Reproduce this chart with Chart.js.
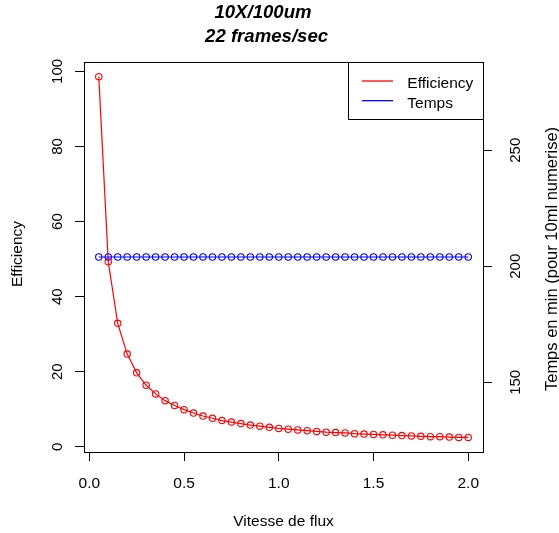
<!DOCTYPE html>
<html><head><meta charset="utf-8">
<script src="https://cdn.jsdelivr.net/npm/chart.js@4"></script>
<style>html,body{margin:0;padding:0;background:#fff;}#wrap{width:559px;height:533px;}</style>
</head><body><div id="wrap"><canvas id="c" width="559" height="533"></canvas></div>
<script>
const vitesse = [0.05,0.10,0.15,0.20,0.25,0.30,0.35,0.40,0.45,0.50,0.55,0.60,0.65,0.70,0.75,0.80,0.85,0.90,0.95,1.00,
                 1.05,1.10,1.15,1.20,1.25,1.30,1.35,1.40,1.45,1.50,1.55,1.60,1.65,1.70,1.75,1.80,1.85,1.90,1.95,2.00];
const efficiency = [98.6,49.3,32.9,24.7,19.7,16.4,14.1,12.3,11.0,9.9,9.0,8.2,7.6,7.0,6.6,6.2,5.8,5.5,5.2,4.9,
                    4.7,4.5,4.3,4.1,3.9,3.8,3.7,3.5,3.4,3.3,3.2,3.1,3.0,2.9,2.8,2.7,2.7,2.6,2.5,2.5];
const temps = [204,204,204,204,204,204,204,204,204,204,204,204,204,204,204,204,204,204,204,204,
               204,204,204,204,204,204,204,204,204,204,204,204,204,204,204,204,204,204,204,204];
const xTicks = [0,0.5,1.0,1.5,2.0];
const effTicks = [0,20,40,60,80,100];
const tempsTicks = [150,200,250];
const seriesNames = ["Efficiency", "Temps"];
const seriesColors = ["rgb(255,0,0)", "rgb(0,0,255)"];
const titleLines = ["10X/100um", " 22 frames/sec"];
const xTitle = "Vitesse de flux";
const yTitle = "Efficiency";
const y2Title = "Temps en min (pour 10ml numerise)";

const FONT = '"Liberation Sans", Arial, sans-serif';

const decor = {
  id: 'decor',
  afterDraw(chart) {
    const ctx = chart.ctx, a = chart.chartArea;
    const sx = chart.scales.x, sy = chart.scales.y, sy2 = chart.scales.y2;
    ctx.save();
    ctx.setLineDash([]);
    ctx.globalAlpha = 1;
    ctx.strokeStyle = '#000'; ctx.lineWidth = 1;
    ctx.strokeRect(Math.round(a.left) + 0.5, Math.round(a.top) + 0.5, Math.round(a.right - a.left), Math.round(a.bottom - a.top));
    ctx.fillStyle = '#000';
    ctx.font = '15.5px ' + FONT; ctx.textAlign = 'center'; ctx.textBaseline = 'alphabetic';
    sx.ticks.forEach(t => ctx.fillText(t.value.toFixed(1), sx.getPixelForValue(t.value), 488.3));
    ctx.fillText(xTitle, (a.left + a.right) / 2, 526);
    ctx.font = '15px ' + FONT;
    sy.ticks.forEach(t => {
      ctx.save(); ctx.translate(61.7, sy.getPixelForValue(t.value)); ctx.rotate(-Math.PI / 2);
      ctx.fillText(String(t.value), 0, 0); ctx.restore();
    });
    sy2.ticks.forEach(t => {
      ctx.save(); ctx.translate(520, sy2.getPixelForValue(t.value)); ctx.rotate(-Math.PI / 2);
      ctx.fillText(String(t.value), 0, 0); ctx.restore();
    });
    ctx.font = '15.5px ' + FONT;
    ctx.save(); ctx.translate(21.5, (a.top + a.bottom) / 2 - 3); ctx.rotate(-Math.PI / 2);
    ctx.fillText(yTitle, 0, 0); ctx.restore();
    ctx.font = '16.5px ' + FONT;
    ctx.save(); ctx.translate(557, (a.top + a.bottom) / 2 + 2); ctx.rotate(-Math.PI / 2);
    ctx.fillText(y2Title, 0, 0); ctx.restore();
    ctx.font = 'italic bold 18.6px ' + FONT;
    ctx.fillText(titleLines[0], 263, 18.3);
    ctx.fillText(titleLines[1], 264, 41.7);
    const lx0 = 348.5, ly0 = Math.round(a.top) + 0.5, lx1 = Math.round(a.right) + 0.5, ly1 = 119.5;
    ctx.fillStyle = '#fff';
    ctx.fillRect(lx0, ly0, lx1 - lx0, ly1 - ly0);
    ctx.strokeStyle = '#000';
    ctx.strokeRect(lx0, ly0, lx1 - lx0, ly1 - ly0);
    const rows = [81, 100.7];
    ctx.font = '15.5px ' + FONT; ctx.textAlign = 'left';
    for (let i = 0; i < seriesNames.length; i++) {
      ctx.strokeStyle = seriesColors[i]; ctx.lineWidth = 1.3;
      ctx.beginPath(); ctx.moveTo(362, rows[i]); ctx.lineTo(393, rows[i]); ctx.stroke();
      ctx.fillStyle = '#000';
      ctx.fillText(seriesNames[i], 407.3, rows[i] + 7.3);
    }
    ctx.restore();
  }
};

const gridOpts = {display: true, drawOnChartArea: false, drawTicks: true, tickLength: 9, color: '#000', lineWidth: 1};

new Chart(document.getElementById('c'), {
  type: 'line',
  data: {
    datasets: [
      {label: seriesNames[0], data: vitesse.map((x, i) => ({x: x, y: efficiency[i]})), yAxisID: 'y',
       borderColor: seriesColors[0], borderWidth: 1.2, pointRadius: 3.2, pointBorderWidth: 1.1, pointBorderColor: seriesColors[0],
       pointBackgroundColor: 'rgba(0,0,0,0)', tension: 0, fill: false, order: 1},
      {label: seriesNames[1], data: vitesse.map((x, i) => ({x: x, y: temps[i]})), yAxisID: 'y2',
       borderColor: seriesColors[1], borderWidth: 1.2, pointRadius: 3.2, pointBorderWidth: 1.1, pointBorderColor: seriesColors[1],
       pointBackgroundColor: 'rgba(0,0,0,0)', tension: 0, fill: false, order: 0}
    ]
  },
  options: {
    responsive: false, animation: false, devicePixelRatio: 1,
    layout: {padding: {top: 62, left: 0, right: 0, bottom: 0}},
    plugins: {legend: {display: false}, title: {display: false}, tooltip: {enabled: false}},
    scales: {
      x: {type: 'linear', position: 'bottom', min: -0.028, max: 2.078,
          afterBuildTicks: s => { s.ticks = xTicks.map(v => ({value: v})); },
          afterFit: s => { s.height = 81; },
          ticks: {display: false}, grid: gridOpts, border: {display: false}},
      y: {type: 'linear', position: 'left', min: -1.38, max: 102.5,
          afterBuildTicks: s => { s.ticks = effTicks.map(v => ({value: v})); },
          afterFit: s => { s.width = 84; },
          ticks: {display: false}, grid: gridOpts, border: {display: false}},
      y2: {type: 'linear', position: 'right', min: 120, max: 288,
          afterBuildTicks: s => { s.ticks = tempsTicks.map(v => ({value: v})); },
          afterFit: s => { s.width = 76; },
          ticks: {display: false}, grid: gridOpts, border: {display: false}}
    }
  },
  plugins: [decor]
});
</script></body></html>
